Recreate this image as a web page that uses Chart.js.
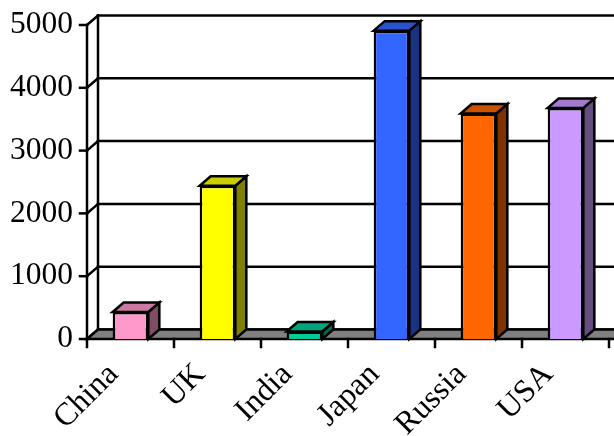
<!DOCTYPE html>
<html>
<head>
<meta charset="utf-8">
<script src="https://cdn.jsdelivr.net/npm/chart.js@4/dist/chart.umd.min.js"></script>
<style>
  html, body { margin: 0; padding: 0; background: #fff; }
  #wrap { width: 614px; height: 436px; }
</style>
</head>
<body>
<div id="wrap"><canvas id="c" width="614" height="436"></canvas></div>
<script>
const countries = ["China", "UK", "India", "Japan", "Russia", "USA"];
const amounts = [430, 2440, 120, 4910, 3590, 3680];
const yTicks = [0, 1000, 2000, 3000, 4000, 5000];
const barColors = ["#FF99CC", "#FFFF00", "#00CC99", "#3366FF", "#FF6600", "#CC99FF"];

// depth of the fake 3d box
const dx = 11, dy = -9.5;
const lw = 2.5;

function shade(hex, k) {
  const n = parseInt(hex.slice(1), 16);
  const r = Math.round(((n >> 16) & 255) * k);
  const g = Math.round(((n >> 8) & 255) * k);
  const b = Math.round((n & 255) * k);
  return "rgb(" + r + "," + g + "," + b + ")";
}

function poly(ctx, pts, fill) {
  ctx.beginPath();
  ctx.moveTo(pts[0][0], pts[0][1]);
  for (let i = 1; i < pts.length; i++) ctx.lineTo(pts[i][0], pts[i][1]);
  ctx.closePath();
  if (fill) { ctx.fillStyle = fill; ctx.fill(); }
  ctx.stroke();
}

function seg(ctx, x1, y1, x2, y2) {
  ctx.beginPath();
  ctx.moveTo(x1, y1);
  ctx.lineTo(x2, y2);
  ctx.stroke();
}

const box3d = {
  id: "box3d",
  beforeDatasetsDraw(chart) {
    const { ctx, chartArea: a, scales: { x, y } } = chart;
    ctx.save();
    ctx.strokeStyle = "#000";
    ctx.lineWidth = lw;
    ctx.lineCap = "square";
    // back wall + side wall grid
    yTicks.forEach(v => {
      const py = y.getPixelForValue(v);
      seg(ctx, a.left, py, a.left + dx, py + dy);
      seg(ctx, a.left + dx, py + dy, a.right + dx + 10, py + dy);
      seg(ctx, a.left - 7, py, a.left, py);
    });
    seg(ctx, a.left + dx, y.getPixelForValue(0) + dy, a.left + dx, y.getPixelForValue(5000) + dy);
    // floor
    const b = y.getPixelForValue(0);
    poly(ctx, [[a.left, b], [a.right + 10, b], [a.right + 10 + dx, b + dy], [a.left + dx, b + dy]], "#808080");
    // category ticks
    for (let i = 0; i <= countries.length; i++) {
      const px = x.getPixelForValue(i - 0.5);
      seg(ctx, px, b, px, b + 8);
    }
    // front value axis
    seg(ctx, a.left, y.getPixelForValue(5000), a.left, b);
    ctx.restore();
  },
  afterDatasetsDraw(chart) {
    const { ctx } = chart;
    const meta = chart.getDatasetMeta(0);
    ctx.save();
    ctx.strokeStyle = "#000";
    ctx.lineWidth = lw;
    ctx.lineJoin = "miter";
    meta.data.forEach((bar, i) => {
      const x0 = bar.x - bar.width / 2, x1 = bar.x + bar.width / 2;
      const top = bar.y, base = bar.base;
      poly(ctx, [[x1, top], [x1 + dx, top + dy], [x1 + dx, base + dy], [x1, base]], shade(barColors[i], 0.5));
      poly(ctx, [[x0, top], [x1, top], [x1 + dx, top + dy], [x0 + dx, top + dy]], shade(barColors[i], 0.8));
    });
    ctx.restore();
  }
};

const family = "'Liberation Serif', 'Times New Roman', serif";

new Chart(document.getElementById("c"), {
  type: "bar",
  data: {
    labels: countries,
    datasets: [{
      data: amounts,
      backgroundColor: barColors,
      borderColor: "#000",
      borderWidth: lw,
      borderSkipped: "bottom",
      categoryPercentage: 1,
      barPercentage: 0.41
    }]
  },
  options: {
    responsive: false,
    animation: false,
    layout: { padding: { top: 25, right: 5, left: 0, bottom: 0 } },
    plugins: { legend: { display: false }, tooltip: { enabled: false } },
    scales: {
      x: {
        grid: { display: false, drawTicks: false },
        border: { display: false },
        ticks: { color: "#000", font: { family: family, size: 32 }, maxRotation: 45, minRotation: 45, padding: 17, labelOffset: -17 },
        afterFit(s) { s.height = 97; s.paddingLeft = 0; s.paddingRight = 0; }
      },
      y: {
        min: 0,
        max: 5000,
        grid: { display: false, drawTicks: false },
        border: { display: false },
        ticks: { color: "#000", font: { family: family, size: 31.5 }, stepSize: 1000, padding: 14, callback: v => String(v) },
        afterFit(s) { s.width = 87; s.paddingTop = 0; s.paddingBottom = 0; }
      }
    }
  },
  plugins: [box3d]
});
</script>
</body>
</html>
